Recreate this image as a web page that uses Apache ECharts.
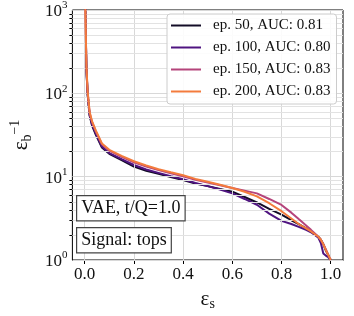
<!DOCTYPE html>
<html>
<head>
<meta charset="utf-8">
<script src="https://cdn.jsdelivr.net/npm/echarts@6/dist/echarts.min.js"></script>
<style>
html,body{margin:0;padding:0;background:#fff;}
#chart{width:354px;height:316px;}
</style>
</head>
<body>
<div id="chart"></div>
<script>
// ---- data ----
const effS = [0, 0.003, 0.007, 0.012, 0.02, 0.03, 0.045, 0.07, 0.1, 0.15, 0.2, 0.25, 0.3, 0.35, 0.4, 0.45, 0.5, 0.55, 0.6, 0.65, 0.7, 0.75, 0.8, 0.84, 0.87, 0.9, 0.92, 0.95, 0.96, 0.97, 0.98, 0.99, 1.0];
const ep50  = [3000, 850, 190, 96, 54, 41, 32, 22.4, 18.8, 15.8, 13.2, 11.8, 10.8, 9.9, 9.1, 8.3, 7.7, 7.1, 6.6, 5.7, 4.9, 4.1, 3.5, 3.0, 2.7, 2.4, 2.2, 1.9, 1.75, 1.55, 1.3, 1.15, 1.0];
const ep100 = [3000, 850, 195, 98, 55, 42, 33, 23, 19.2, 16.2, 13.8, 12.2, 11.1, 10.1, 9.3, 8.4, 7.7, 7.0, 6.3, 5.4, 4.6, 3.6, 2.95, 2.7, 2.5, 2.3, 2.15, 1.85, 1.6, 1.2, 1.13, 1.08, 1.0];
const ep150 = [3000, 880, 205, 102, 58, 45, 35, 24.5, 20.5, 17.3, 14.9, 13.2, 12.0, 11.0, 10.1, 9.2, 8.5, 7.9, 7.3, 6.8, 6.3, 5.4, 4.58, 3.7, 3.1, 2.6, 2.3, 1.9, 1.75, 1.55, 1.35, 1.15, 1.0];
const ep200 = [3000, 900, 210, 105, 60, 46, 36, 25, 21, 17.8, 15.3, 13.6, 12.3, 11.3, 10.4, 9.4, 8.7, 8.0, 7.3, 6.6, 5.8, 4.8, 3.85, 3.15, 2.7, 2.4, 2.2, 1.9, 1.75, 1.55, 1.32, 1.15, 1.0];
const seriesNames = ['ep. 50, AUC: 0.81', 'ep. 100, AUC: 0.80', 'ep. 150, AUC: 0.83', 'ep. 200, AUC: 0.83'];
const seriesColors = ['#120c26', '#4f1480', '#b5447b', '#f37b3c'];
const xTicks = [0, 0.2, 0.4, 0.6, 0.8, 1.0];
const yMajor = [1, 10, 100, 1000];
const yMinor = [2,3,4,5,6,7,8,9,20,30,40,50,60,70,80,90,200,300,400,500,600,700,800,900];
const boxTexts = ['VAE, t/Q=1.0', 'Signal: tops'];

const serif = '"Liberation Serif", "DejaVu Serif", serif';
const allSeries = [ep50, ep100, ep150, ep200];

const gridLines = [];
xTicks.forEach(v => gridLines.push({xAxis: v, lineStyle: {color: '#d8d8d8', width: 1}}));
yMajor.forEach(v => gridLines.push({yAxis: v, lineStyle: {color: '#d8d8d8', width: 1}}));
yMinor.forEach(v => gridLines.push({yAxis: v, lineStyle: {color: '#e2e2e2', width: 1}}));

const series = [{
  name: '_grid', type: 'line', data: [[0.5, 10]], showSymbol: false, symbol: 'none',
  lineStyle: {opacity: 0}, silent: true, z: 1, animation: false,
  markLine: {silent: true, symbol: ['none', 'none'], label: {show: false}, animation: false,
    lineStyle: {type: 'solid'}, data: gridLines}
}];
allSeries.forEach((vals, i) => {
  series.push({
    name: seriesNames[i], type: 'line', showSymbol: false, symbol: 'none',
    data: effS.map((x, j) => [x, vals[j]]),
    lineStyle: {color: seriesColors[i], width: 2},
    itemStyle: {color: seriesColors[i]},
    z: 3 + i, animation: false, clip: true
  });
});

const chart = echarts.init(document.getElementById('chart'));
chart.setOption({
  animation: false,
  backgroundColor: '#fff',
  grid: {left: 67, top: 7, width: 276, height: 254, show: true, borderColor: '#000', borderWidth: 1, backgroundColor: 'transparent'},
  xAxis: {
    type: 'value', min: -0.05, max: 1.05,
    name: '{e|ε}{s|s}', nameLocation: 'middle', nameGap: 29,
    nameTextStyle: {rich: {
      e: {fontFamily: serif, fontSize: 21, color: '#111', lineHeight: 22, verticalAlign: 'top'},
      s: {fontFamily: serif, fontSize: 14, color: '#111', lineHeight: 22, verticalAlign: 'bottom'}
    }},
    axisLine: {show: true, lineStyle: {color: '#000', width: 1}},
    axisTick: {show: true, inside: false, length: 4, customValues: xTicks, lineStyle: {color: '#000'}},
    axisLabel: {customValues: xTicks, margin: 6, fontFamily: serif, fontSize: 17, color: '#111',
      formatter: v => v.toFixed(1)},
    splitLine: {show: false}
  },
  yAxis: [{
    type: 'log', logBase: 10, min: 1, max: 1000,
    name: '{e|ε}{s|b}{p|−1}', nameLocation: 'middle', nameGap: 36, nameRotate: 90,
    nameTextStyle: {rich: {
      e: {fontFamily: serif, fontSize: 21, color: '#111', lineHeight: 26, verticalAlign: 'middle'},
      s: {fontFamily: serif, fontSize: 14, color: '#111', lineHeight: 26, verticalAlign: 'bottom'},
      p: {fontFamily: serif, fontSize: 14, color: '#111', lineHeight: 14, verticalAlign: 'top'}
    }},
    axisLine: {show: true, lineStyle: {color: '#000', width: 1}},
    axisTick: {show: true, inside: false, length: 5, lineStyle: {color: '#000'}},
    axisLabel: {margin: 5, color: '#111',
      formatter: v => '{b|10}{p|' + Math.round(Math.log10(v)) + '}',
      rich: {
        b: {fontFamily: serif, fontSize: 17, color: '#111', lineHeight: 20, verticalAlign: 'bottom'},
        p: {fontFamily: serif, fontSize: 11, color: '#111', lineHeight: 11, verticalAlign: 'top'}
      }},
    splitLine: {show: false}
  }, {
    type: 'log', logBase: 10, min: 1, max: 1000, position: 'left',
    axisLine: {show: false},
    axisTick: {show: true, inside: false, length: 3, customValues: yMinor, lineStyle: {color: '#000'}},
    axisLabel: {show: false},
    splitLine: {show: false}
  }],
  legend: {
    data: seriesNames, orient: 'vertical', left: 167, top: 14, z: 50, zlevel: 0,
    padding: [4, 6, 5, 4], itemGap: 7, itemWidth: 30, itemHeight: 2, icon: 'rect',
    backgroundColor: 'rgba(255,255,255,0.88)', borderColor: '#cccccc', borderWidth: 1, borderRadius: 3,
    selectedMode: false,
    textStyle: {fontFamily: serif, fontSize: 15, color: '#111', lineHeight: 14, padding: [0, 0, 0, 7]}
  },
  graphic: [{
    type: 'text', left: 76, top: 195, z: 100,
    style: {text: boxTexts[0], font: '18px ' + serif, fill: '#111', lineHeight: 19,
      backgroundColor: '#fff', borderColor: '#444', borderWidth: 1.2, padding: [3, 4, 2, 4]}
  }, {
    type: 'text', left: 76, top: 227, z: 100,
    style: {text: boxTexts[1], font: '18px ' + serif, fill: '#111', lineHeight: 19,
      backgroundColor: '#fff', borderColor: '#444', borderWidth: 1.2, padding: [3, 4, 2, 4]}
  }],
  series: series
});
</script>
</body>
</html>
